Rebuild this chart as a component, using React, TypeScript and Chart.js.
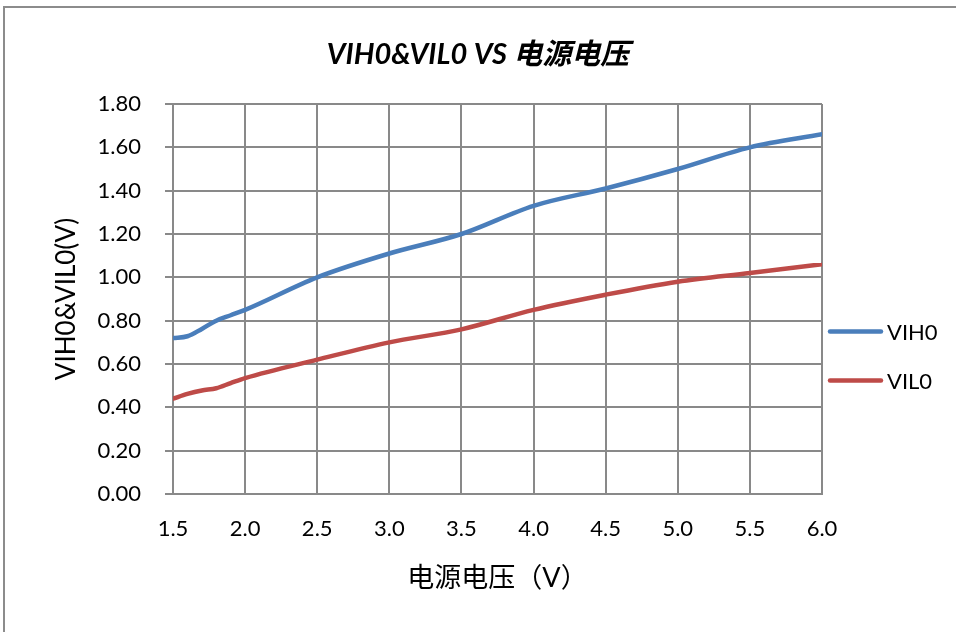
import React, { useEffect, useRef } from "react";
import { Chart, registerables } from "chart.js";

Chart.register(...registerables);

// ---- data ----
const voltages = [1.5, 1.6, 1.7, 1.8, 1.9, 2.0, 2.5, 3.0, 3.5, 4.0, 4.5, 5.0, 5.5, 6.0];
const vih0 = [0.72, 0.728, 0.762, 0.8, 0.825, 0.85, 1.0, 1.11, 1.2, 1.33, 1.41, 1.5, 1.6, 1.66];
const vil0 = [0.44, 0.462, 0.478, 0.488, 0.512, 0.535, 0.62, 0.7, 0.76, 0.85, 0.92, 0.98, 1.02, 1.06];
const seriesNames = ["VIH0", "VIL0"];
const xTickValues = [1.5, 2.0, 2.5, 3.0, 3.5, 4.0, 4.5, 5.0, 5.5, 6.0];
const xTickLabels = ["1.5", "2.0", "2.5", "3.0", "3.5", "4.0", "4.5", "5.0", "5.5", "6.0"];
const yTickValues = [0, 0.2, 0.4, 0.6, 0.8, 1.0, 1.2, 1.4, 1.6, 1.8];
const yTickLabels = ["0.00", "0.20", "0.40", "0.60", "0.80", "1.00", "1.20", "1.40", "1.60", "1.80"];
const titleText = "VIH0&VIL0 VS 电源电压";
const xTitle = "电源电压（V）";
const yTitle = "VIH0&VIL0(V)";

const COLORS = ["#4A7EBB", "#BE4B48"];
const FONT = "Lato, 'Noto Sans CJK SC', sans-serif";
const GRID = "#898989";

const sideLegend = {
  id: "sideLegend",
  afterDraw(chart: any) {
    const { ctx, chartArea } = chart;
    const ds = chart.data.datasets;
    const cy = (chartArea.top + chartArea.bottom) / 2 + 57;
    const gap = 49;
    ds.forEach((d: any, i: number) => {
      const y = cy + (i - (ds.length - 1) / 2) * gap;
      const x0 = chartArea.right + 8;
      ctx.save();
      ctx.strokeStyle = d.borderColor;
      ctx.lineWidth = 4.5;
      ctx.lineCap = "round";
      ctx.beginPath();
      ctx.moveTo(x0, y);
      ctx.lineTo(x0 + 51, y);
      ctx.stroke();
      ctx.fillStyle = "#000";
      ctx.font = `22px ${FONT}`;
      ctx.textBaseline = "middle";
      ctx.textAlign = "left";
      ctx.fillText(d.label, x0 + 57, y + 1);
      ctx.restore();
    });
  },
};

export default function App() {
  const ref = useRef<HTMLCanvasElement | null>(null);
  useEffect(() => {
    if (!ref.current) return;
    const chart = new Chart(ref.current, {
      type: "line",
      data: {
        datasets: [vih0, vil0].map((vals, i) => ({
          label: seriesNames[i],
          data: voltages.map((v, j) => ({ x: v, y: vals[j] })),
          borderColor: COLORS[i],
          backgroundColor: COLORS[i],
          borderWidth: 4.5,
          pointRadius: 0,
          cubicInterpolationMode: "monotone" as const,
          borderCapStyle: "round" as const,
          fill: false,
          yAxisID: "y",
        })),
      },
      options: {
        animation: false,
        responsive: false,
        maintainAspectRatio: false,
        layout: { padding: 0 },
        plugins: {
          legend: { display: false },
          tooltip: { enabled: false },
          title: {
            display: true,
            text: titleText,
            color: "#000",
            font: { family: FONT, size: 29, weight: "bold", style: "italic", lineHeight: 1.2 },
            padding: { top: 37.6, bottom: 31.6 },
          },
        },
        scales: {
          x: {
            type: "linear",
            min: 1.5,
            max: 6,
            afterBuildTicks: (s: any) => {
              s.ticks = xTickValues.map((v) => ({ value: v }));
            },
            afterFit: (s: any) => {
              s.height = 138;
            },
            ticks: {
              color: "#000",
              font: { family: FONT, size: 22 },
              padding: 22,
              maxRotation: 0,
              autoSkip: false,
              callback: (_v: any, i: number) => xTickLabels[i],
            },
            grid: { color: GRID, lineWidth: 2, drawTicks: false },
            border: { color: GRID, width: 2 },
            title: {
              display: true,
              text: xTitle,
              color: "#000",
              font: { family: FONT, size: 27, lineHeight: 1.2 },
              padding: { top: 0, bottom: 37.8 },
            },
          },
          y: {
            type: "linear",
            position: "left",
            min: 0,
            max: 1.8,
            afterBuildTicks: (s: any) => {
              s.ticks = yTickValues.map((v) => ({ value: v }));
            },
            afterFit: (s: any) => {
              s.width = 173;
            },
            ticks: {
              color: "#000",
              font: { family: FONT, size: 22 },
              padding: 24,
              autoSkip: false,
              callback: (_v: any, i: number) => yTickLabels[i],
            },
            grid: { color: GRID, lineWidth: 2, drawTicks: true, tickLength: 8 },
            border: { color: GRID, width: 2 },
            title: {
              display: true,
              text: yTitle,
              color: "#000",
              font: { family: FONT, size: 26, lineHeight: 1.2 },
              padding: { top: 51, bottom: 0 },
            },
          },
          legendSpace: {
            type: "linear",
            position: "right",
            display: true,
            min: 0,
            max: 1,
            afterFit: (s: any) => {
              s.width = 134;
            },
            ticks: { display: false },
            grid: { display: false, drawTicks: false },
            border: { display: false },
            title: { display: false },
          },
        },
      },
      plugins: [sideLegend],
    });
    return () => chart.destroy();
  }, []);

  return (
    <div
      style={{
        position: "fixed",
        left: 0,
        top: 0,
        width: 956,
        height: 632,
        overflow: "hidden",
        background: "#fff",
      }}
    >
      <div
        style={{
          position: "absolute",
          left: 3,
          top: 6,
          width: 1100,
          height: 1100,
          border: "2px solid #8c8c8c",
          boxSizing: "border-box",
        }}
      />
      <canvas
        ref={ref}
        width={956}
        height={632}
        style={{ position: "absolute", left: 0, top: 0, width: 956, height: 632 }}
      />
    </div>
  );
}
